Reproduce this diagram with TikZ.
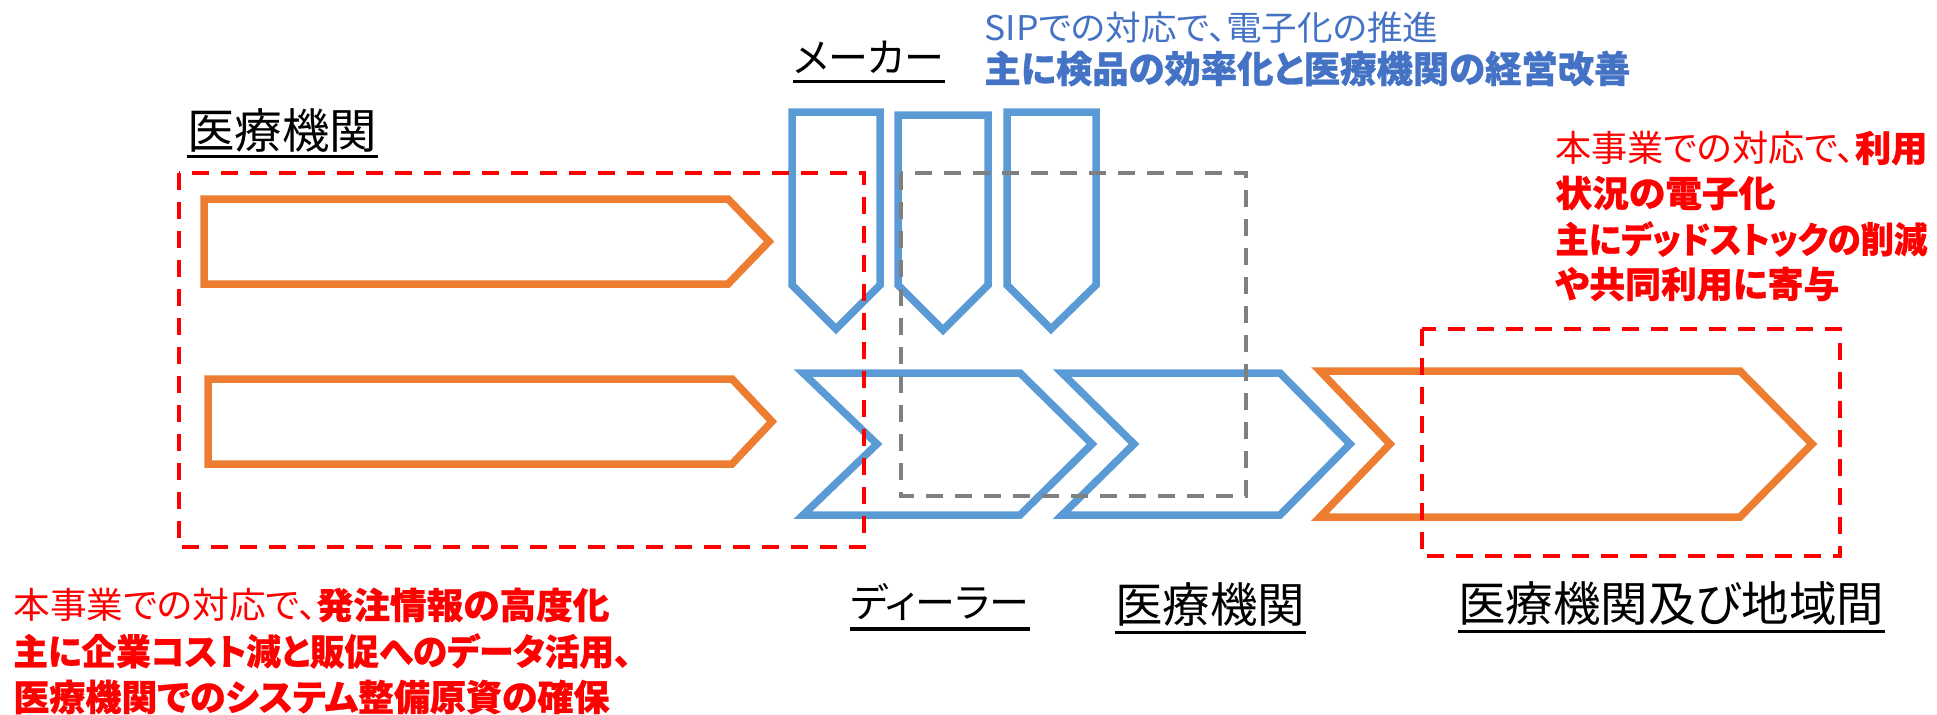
\documentclass[tikz,border=0pt]{standalone}
\usepackage{fontspec}
\setmainfont{Noto Sans CJK JP}[RawFeature=+palt, BoldFeatures={FakeBold=0.8}]
\definecolor{orng}{HTML}{ED7D31}
\definecolor{blu}{HTML}{5B9BD5}
\definecolor{btxt}{HTML}{4472C4}
\definecolor{gry}{HTML}{7F7F7F}
\definecolor{rd}{HTML}{FF0000}
\newcommand\fitw[2]{\resizebox{#1}{\height}{#2}}
\tikzset{
  oshape/.style={draw=orng, line width=3.75pt, line join=miter},
  bshape/.style={draw=blu, line width=3.75pt, line join=miter},
  reddash/.style={draw=rd, line width=2pt, dash pattern=on 8.5pt off 6pt},
  graydash/.style={draw=gry, line width=2pt, dash pattern=on 8.5pt off 6pt},
  lbl/.style={inner sep=0pt, anchor=west, font=\fontsize{23.75}{28}\selectfont},
  klbl/.style={inner sep=0pt, anchor=west, font=\fontsize{20}{24}\selectfont},
  ul/.style={line width=1.75pt},
  rtxt/.style={inner sep=0pt, anchor=west, text=rd, font=\fontsize{18}{22}\selectfont},
  rbold/.style={rtxt, font=\fontsize{18}{22}\selectfont\bfseries},
  ltxt/.style={inner sep=0pt, anchor=west, text=rd, font=\fontsize{18}{22}\selectfont},
  lbold/.style={ltxt, font=\fontsize{18}{22}\selectfont\bfseries},
  btx/.style={inner sep=0pt, anchor=west, text=btxt},
}
\begin{document}
\begin{tikzpicture}[x=0.5pt,y=-0.5pt]
\useasboundingbox (0,0) rectangle (1937,714);
% orange arrows left
\draw[oshape] (204,199) -- (728,199) -- (769,241.5) -- (728,284) -- (204,284) -- cycle;
\draw[oshape] (208,379) -- (732,379) -- (772,421.5) -- (732,464) -- (208,464) -- cycle;
% blue downward pentagons
\draw[bshape] (792,112) -- (880,112) -- (880,285) -- (836,329) -- (792,285) -- cycle;
\draw[bshape] (898,115) -- (988,115) -- (988,285) -- (943,330) -- (898,285) -- cycle;
\draw[bshape] (1007,112) -- (1096,112) -- (1096,285) -- (1051,329) -- (1007,285) -- cycle;
% blue chevrons
\draw[bshape] (803,373) -- (1020,373) -- (1092,444) -- (1020,515) -- (803,515) -- (877,444) -- cycle;
\draw[bshape] (1062,373) -- (1280,373) -- (1350,444) -- (1280,515) -- (1062,515) -- (1134,444) -- cycle;
% orange chevron
\draw[oshape] (1320,371) -- (1740,371) -- (1812,444) -- (1740,517) -- (1320,517) -- (1390,444) -- cycle;
% dashed boxes
\draw[graydash] (901,173) rectangle (1246,496);
\draw[reddash] (179,173) rectangle (864,547);
\draw[reddash] (1422,329) rectangle (1840,556);
% labels
\node[lbl] (lmed) at (187,130) {医療機関};
\draw[ul] ([yshift=-2pt]lmed.south west) -- ([yshift=-2pt]lmed.south east);
\node[klbl] (lmak) at (793,57) {メーカー};
\draw[ul] ([yshift=-4pt]lmak.south west) -- ([yshift=-4pt]lmak.south east);
\node[klbl] (ldea) at (850,602) {ディーラー};
\draw[ul] ([yshift=-4pt]ldea.south west) -- ([yshift=-4pt]ldea.south east);
\node[lbl] (lmed2) at (1115,604) {医療機関};
\draw[ul] ([yshift=-3pt]lmed2.south west) -- ([yshift=-3pt]lmed2.south east);
\node[lbl] (lreg) at (1458,603) {医療機関及び地域間};
\draw[ul] ([yshift=-3pt]lreg.south west) -- ([yshift=-3pt]lreg.south east);
% blue text
\node[btx, font=\fontsize{17}{20}\selectfont] (sip1) at (984,27.5) {\fitw{227pt}{SIPでの対応で、電子化の推進}};
\node[btx, font=\fontsize{18.5}{22}\selectfont\bfseries] (sip2) at (984,68.5) {\fitw{323pt}{主に検品の効率化と医療機関の経営改善}};
% red right text
\node[rtxt] (r1) at (1555,148) {\fitw{186pt}{本事業での対応で、\textbf{利用}}};
\node[rbold] (r2) at (1555,193) {\fitw{110pt}{状況の電子化}};
\node[rbold] (r3) at (1555,239) {\fitw{186pt}{主にデッドストックの削減}};
\node[rbold] (r4) at (1555,284) {\fitw{142pt}{や共同利用に寄与}};
% red bottom-left text
\node[ltxt] (b1) at (13,605) {\fitw{298pt}{本事業での対応で、\textbf{発注情報の高度化}}};
\node[lbold] (b2) at (13,651) {\fitw{309pt}{主に企業コスト減と販促へのデータ活用、}};
\node[lbold] (b3) at (13,697) {\fitw{298pt}{医療機関でのシステム整備原資の確保}};
\end{tikzpicture}
\end{document}
